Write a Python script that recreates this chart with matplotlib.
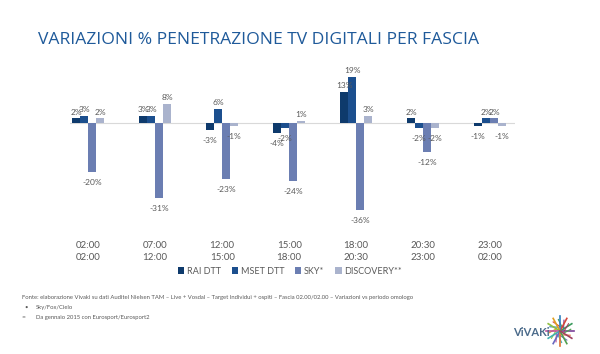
import numpy as np
import matplotlib
matplotlib.use('Agg')
import matplotlib.pyplot as plt

plt.rcParams['font.family'] = ['Lato', 'DejaVu Sans']

fasce = ['02:00\n02:00', '07:00\n12:00', '12:00\n15:00', '15:00\n18:00',
         '18:00\n20:30', '20:30\n23:00', '23:00\n02:00']
rai = [2, 3, -3, -4, 13, 2, -1]
mset = [3, 3, 6, -2, 19, -2, 2]
sky = [-20, -31, -23, -24, -36, -12, 2]
discovery = [2, 8, -1, 1, 3, -2, -1]
serie = ['RAI DTT', 'MSET DTT', 'SKY*', 'DISCOVERY**']
colori = ['#0e3a6c', '#1c4f8e', '#6b7eb2', '#aab3cd']

fig = plt.figure(figsize=(6, 3.54), dpi=100)
ax = fig.add_axes([70/600, 1 - 220/354, 445/600, 150/354])

x = np.arange(len(fasce))
w = 0.12
valori = [rai, mset, sky, discovery]
for k, (vals, col, nome) in enumerate(zip(valori, colori, serie)):
    pos = x + (k - 1.5) * w
    ax.bar(pos, vals, w, color=col, label=nome, linewidth=0)
    for px, v in zip(pos, vals):
        if v >= 0:
            ax.annotate('%d%%' % v, (px, v), xytext=(0, 2), textcoords='offset points',
                        ha='center', va='bottom', fontsize=6, color='#595959')
        else:
            ax.annotate('%d%%' % v, (px, v), xytext=(0, -5), textcoords='offset points',
                        ha='center', va='top', fontsize=6, color='#595959')

ax.axhline(0, color='#d9d9d9', linewidth=0.8, zorder=0)
ax.set_xlim(-0.27, 6.37)
ax.set_ylim(-40, 22)
for s in ax.spines.values():
    s.set_visible(False)
ax.set_yticks([])
ax.set_xticks(x)
ax.set_xticklabels(fasce, fontsize=7, color='#595959', linespacing=1.5)
ax.tick_params(axis='x', length=0, pad=15)

fig.legend(loc='center', bbox_to_anchor=(290/600, 1 - 271/354), ncol=4, frameon=False,
           fontsize=6.5, handlelength=0.7, handleheight=0.7, handletextpad=0.3,
           columnspacing=1.2, labelcolor='#595959')

fig.text(259/600, 1 - 40/354, 'VARIAZIONI % PENETRAZIONE TV DIGITALI PER FASCIA',
         ha='center', va='center', fontsize=12.6, color='#1f5a9a', family='Open Sans')

fig.text(22/600, 1 - 297/354,
         'Fonte: elaborazione Vivaki su dati Auditel Nielsen TAM \u2013 Live + Vosdal \u2013 '
         'Target Individui + ospiti \u2013 Fascia 02.00/02.00 \u2013 Variazioni vs periodo omologo',
         fontsize=4.25, color='#595959', va='center')
fig.text(24/600, 1 - 307/354, '\u2022', fontsize=4.25, color='#595959', va='center')
fig.text(36/600, 1 - 307/354, 'Sky/Fox/Cielo', fontsize=4.25, color='#595959', va='center')
fig.text(22/600, 1 - 318/354, '**', fontsize=4.25, color='#595959', va='center')
fig.text(36/600, 1 - 318/354, 'Da gennaio 2015 con Eurosport/Eurosport2',
         fontsize=4.25, color='#595959', va='center')

# logo
fig.text(513/600, 1 - 333/354, 'ViVAKi', fontsize=8, fontweight='bold',
         color='#4a6a8a', va='center')
lax = fig.add_axes([545/600, 1 - 347/354, 30/600, 32/354])
lax.axis('off')
logo_col = ['#7a3f98', '#3a9a5c', '#d4463b', '#2f7fc1', '#e0a020', '#8fbf3f',
            '#c0509a', '#40b0b0', '#6a6ac0', '#e07030', '#50a050', '#a04060']
ang = np.linspace(0, 2 * np.pi, len(logo_col), endpoint=False)
for a, c in zip(ang, logo_col):
    lax.plot([0, np.cos(a)], [0, np.sin(a)], color=c, linewidth=1.2)
    lax.plot([0.3 * np.cos(a + 0.5), 0.8 * np.cos(a + 1.2)],
             [0.3 * np.sin(a + 0.5), 0.8 * np.sin(a + 1.2)], color=c, linewidth=0.8)
lax.set_xlim(-1.1, 1.1)
lax.set_ylim(-1.1, 1.1)

fig.savefig('out.png', dpi=100)
